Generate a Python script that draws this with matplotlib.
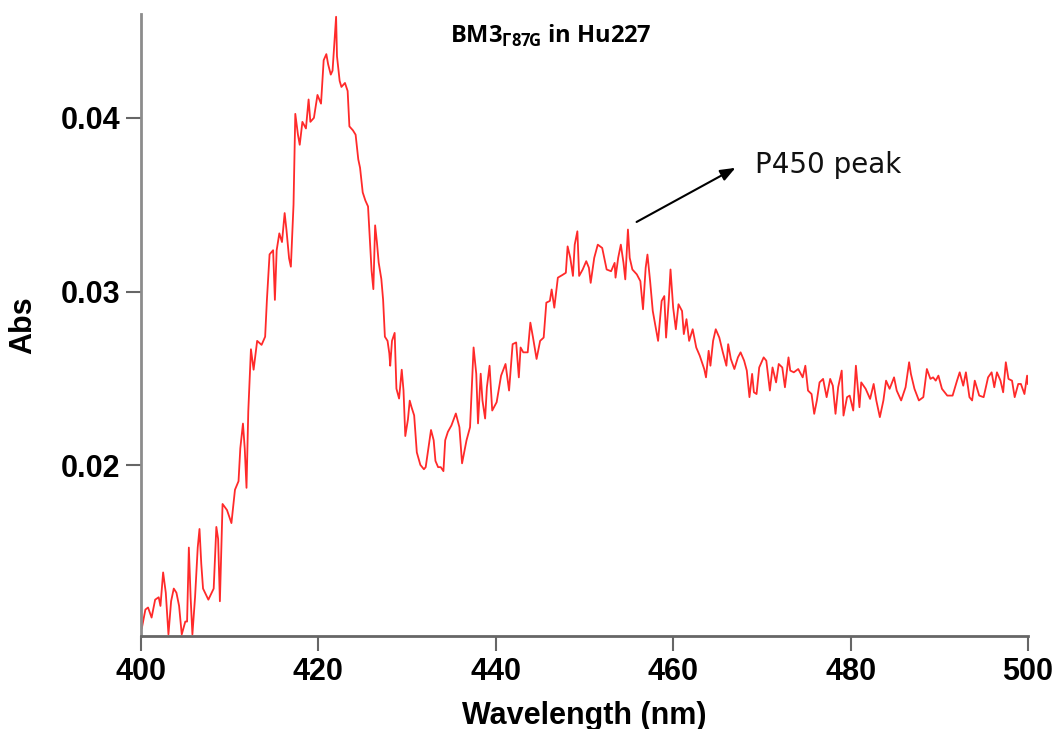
import matplotlib.pyplot as plt

plt.rcParams['mathtext.fontset'] = 'custom'
plt.rcParams['mathtext.rm'] = 'Open Sans'
plt.rcParams['mathtext.bf'] = 'Open Sans:bold'

# wavelength (nm) and absorbance
wavelength = [
    400.1, 400.5, 400.8, 401.2, 401.6, 402.0, 402.2, 402.5, 402.8, 403.1,
    403.4, 403.7, 404.0, 404.3, 404.6, 405.0, 405.2, 405.4, 405.6, 405.8,
    406.1, 406.4, 406.6, 406.8, 407.0, 407.6, 408.2, 408.5, 408.7, 408.9,
    409.2, 409.7, 410.2, 410.6, 411.0, 411.2, 411.5, 411.7, 411.9, 412.1,
    412.4, 412.7, 413.1, 413.6, 414.0, 414.2, 414.5, 414.9, 415.1, 415.3,
    415.6, 415.9, 416.2, 416.4, 416.7, 416.9, 417.2, 417.4, 417.7, 417.9,
    418.2, 418.6, 418.9, 419.1, 419.5, 419.9, 420.3, 420.6, 420.9, 421.1,
    421.4, 421.6, 421.8, 422.0, 422.1, 422.4, 422.6, 423.0, 423.3, 423.5,
    423.9, 424.2, 424.5, 424.7, 425.0, 425.3, 425.6, 425.8, 426.0, 426.2,
    426.4, 426.6, 426.8, 427.1, 427.3, 427.5, 427.8, 428.0, 428.1, 428.3,
    428.6, 428.8, 429.1, 429.4, 429.6, 429.8, 430.1, 430.3, 430.5, 430.8,
    431.1, 431.5, 431.9, 432.1, 432.4, 432.7, 433.0, 433.2, 433.5, 433.8,
    434.1, 434.3, 434.6, 435.0, 435.5, 435.9, 436.2, 436.7, 437.1, 437.3,
    437.5, 437.8, 438.0, 438.3, 438.5, 438.8, 439.0, 439.3, 439.6, 440.1,
    440.6, 441.1, 441.5, 441.9, 442.3, 442.6, 442.8, 443.1, 443.6, 443.9,
    444.2, 444.6, 445.0, 445.4, 445.7, 446.1, 446.3, 446.6, 447.0, 447.5,
    447.9, 448.1, 448.4, 448.7, 448.9, 449.2, 449.4, 449.8, 450.2, 450.5,
    450.7, 451.1, 451.5, 452.0, 452.5, 453.0, 453.4, 453.5, 453.8, 454.1,
    454.4, 454.6, 454.9, 455.1, 455.4, 455.9, 456.3, 456.6, 456.9, 457.1,
    457.4, 457.7, 458.1, 458.3, 458.7, 459.0, 459.2, 459.5, 459.7, 460.0,
    460.3, 460.6, 461.0, 461.2, 461.5, 461.8, 462.2, 462.6, 463.0, 463.5,
    463.7, 464.0, 464.2, 464.5, 464.8, 465.2, 465.6, 466.0, 466.2, 466.5,
    466.9, 467.3, 467.6, 468.0, 468.3, 468.6, 468.9, 469.1, 469.4, 469.7,
    470.2, 470.5, 470.9, 471.2, 471.6, 471.9, 472.3, 472.6, 473.0, 473.2,
    473.6, 474.1, 474.6, 474.9, 475.2, 475.6, 475.9, 476.2, 476.5, 476.9,
    477.3, 477.7, 478.0, 478.3, 478.6, 479.0, 479.2, 479.6, 479.9, 480.3,
    480.6, 481.0, 481.2, 481.7, 482.2, 482.6, 482.9, 483.3, 483.7, 484.0,
    484.4, 484.9, 485.2, 485.7, 486.2, 486.6, 486.8, 487.2, 487.7, 488.2,
    488.6, 489.0, 489.3, 489.6, 489.9, 490.3, 490.9, 491.5, 492.0, 492.3,
    492.7, 493.0, 493.4, 493.7, 494.0, 494.5, 495.0, 495.5, 495.9, 496.2,
    496.5, 496.9, 497.2, 497.5, 497.8, 498.2, 498.5, 498.9, 499.2, 499.6,
    499.9, 500.0,
]
absorbance = [
    0.01062, 0.01169, 0.01181, 0.01123, 0.01226, 0.01240, 0.01190, 0.01383, 0.01266, 0.01026,
    0.01217, 0.01290, 0.01266, 0.01190, 0.01026, 0.01100, 0.01100, 0.01526, 0.01240, 0.01026,
    0.01240, 0.01526, 0.01633, 0.01433, 0.01290, 0.01226, 0.01290, 0.01645, 0.01576, 0.01217,
    0.01777, 0.01742, 0.01667, 0.01859, 0.01908, 0.02097, 0.02240, 0.02097, 0.01870, 0.02311,
    0.02668, 0.02550, 0.02716, 0.02693, 0.02740, 0.02952, 0.03214, 0.03238, 0.02952, 0.03238,
    0.03335, 0.03285, 0.03452, 0.03357, 0.03191, 0.03143, 0.03500, 0.04023, 0.03903, 0.03845,
    0.03977, 0.03939, 0.04106, 0.03977, 0.04000, 0.04132, 0.04082, 0.04332, 0.04367, 0.04309,
    0.04249, 0.04272, 0.04427, 0.04582, 0.04355, 0.04213, 0.04178, 0.04201, 0.04155, 0.03951,
    0.03928, 0.03903, 0.03761, 0.03713, 0.03571, 0.03524, 0.03490, 0.03309, 0.03119, 0.03014,
    0.03381, 0.03285, 0.03167, 0.03072, 0.02952, 0.02740, 0.02716, 0.02644, 0.02573, 0.02716,
    0.02762, 0.02441, 0.02384, 0.02550, 0.02430, 0.02168, 0.02264, 0.02372, 0.02335, 0.02287,
    0.02074, 0.02002, 0.01977, 0.01989, 0.02097, 0.02203, 0.02144, 0.02025, 0.01989, 0.01989,
    0.01966, 0.02144, 0.02192, 0.02229, 0.02298, 0.02219, 0.02011, 0.02143, 0.02219, 0.02449,
    0.02678, 0.02527, 0.02241, 0.02527, 0.02373, 0.02269, 0.02449, 0.02573, 0.02315, 0.02363,
    0.02516, 0.02583, 0.02430, 0.02697, 0.02707, 0.02506, 0.02678, 0.02650, 0.02650, 0.02821,
    0.02735, 0.02612, 0.02716, 0.02735, 0.02936, 0.02946, 0.03012, 0.02907, 0.03080, 0.03095,
    0.03108, 0.03260, 0.03194, 0.03090, 0.03270, 0.03347, 0.03090, 0.03127, 0.03175, 0.03137,
    0.03050, 0.03194, 0.03270, 0.03251, 0.03127, 0.03117, 0.03165, 0.03080, 0.03194, 0.03270,
    0.03165, 0.03070, 0.03357, 0.03194, 0.03127, 0.03099, 0.03060, 0.02898, 0.03137, 0.03213,
    0.03060, 0.02888, 0.02774, 0.02716, 0.02946, 0.02974, 0.02735, 0.02946, 0.03127, 0.02907,
    0.02783, 0.02927, 0.02888, 0.02755, 0.02841, 0.02716, 0.02783, 0.02678, 0.02630, 0.02554,
    0.02506, 0.02659, 0.02573, 0.02716, 0.02783, 0.02735, 0.02650, 0.02573, 0.02697, 0.02612,
    0.02554, 0.02621, 0.02650, 0.02602, 0.02545, 0.02392, 0.02526, 0.02420, 0.02410, 0.02563,
    0.02621, 0.02602, 0.02430, 0.02563, 0.02477, 0.02583, 0.02563, 0.02449, 0.02621, 0.02545,
    0.02535, 0.02554, 0.02506, 0.02573, 0.02430, 0.02410, 0.02296, 0.02373, 0.02477, 0.02497,
    0.02392, 0.02497, 0.02458, 0.02296, 0.02449, 0.02545, 0.02286, 0.02392, 0.02401, 0.02315,
    0.02573, 0.02334, 0.02477, 0.02440, 0.02382, 0.02468, 0.02373, 0.02277, 0.02373, 0.02487,
    0.02440, 0.02506, 0.02430, 0.02373, 0.02449, 0.02593, 0.02526, 0.02440, 0.02373, 0.02392,
    0.02554, 0.02497, 0.02506, 0.02487, 0.02516, 0.02440, 0.02401, 0.02401, 0.02487, 0.02535,
    0.02458, 0.02535, 0.02392, 0.02373, 0.02487, 0.02401, 0.02392, 0.02506, 0.02535, 0.02449,
    0.02535, 0.02487, 0.02420, 0.02593, 0.02497, 0.02487, 0.02392, 0.02468, 0.02468, 0.02410,
    0.02516, 0.02468,
]

x_ticks = [400, 420, 440, 460, 480, 500]
y_ticks = [0.02, 0.03, 0.04]
y_tick_labels = ['0.02', '0.03', '0.04']

fig = plt.figure(figsize=(10.55, 7.29), dpi=100)
ax = fig.add_axes([0.1336, 0.1276, 0.8408, 0.8532])

ax.plot(wavelength, absorbance, color='#ff2a2a', lw=1.3)

ax.set_xlim(400, 500)
ax.set_ylim(0.01017, 0.04598)

for side in ['top', 'right']:
    ax.spines[side].set_visible(False)
ax.spines['left'].set_color('#8c8c8c')
ax.spines['bottom'].set_color('#666666')
ax.spines['left'].set_linewidth(2)
ax.spines['bottom'].set_linewidth(2)

ax.set_xticks(x_ticks)
ax.set_yticks(y_ticks)
ax.set_yticklabels(y_tick_labels)
ax.tick_params(axis='both', direction='out', length=11, width=1.5, color='#666666', pad=4)
for lab in ax.get_xticklabels() + ax.get_yticklabels():
    lab.set_fontfamily('Liberation Sans')
    lab.set_fontweight('bold')
    lab.set_fontsize(22)

ax.set_xlabel('Wavelength (nm)', fontfamily='Liberation Sans', fontweight='bold',
              fontsize=22, labelpad=10)
ax.set_ylabel('Abs', fontfamily='Liberation Sans', fontweight='bold',
              fontsize=22, labelpad=16)

ax.text(0.462, 0.965, r'BM3$_{\mathbf{\Gamma 87G}}$ in Hu227', transform=ax.transAxes,
        fontfamily='Open Sans', fontweight='bold', fontsize=17, ha='center', va='center')

ax.annotate('', xy=(467.3, 0.0372), xytext=(455.6, 0.03393),
            arrowprops=dict(arrowstyle='-|>,head_length=0.9,head_width=0.35',
                            color='black', lw=1.5))
ax.text(469.2, 0.0373, 'P450 peak', fontfamily='DejaVu Sans', fontsize=20,
        ha='left', va='center', color='#111111')

fig.savefig('out.png', dpi=100)
